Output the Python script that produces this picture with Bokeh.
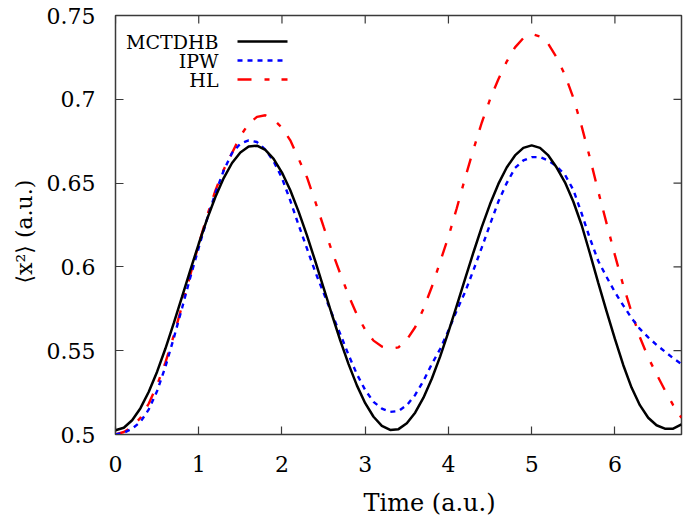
from bokeh.plotting import figure
from bokeh.models import Label, FixedTicker, Range1d, Title
from bokeh.embed import file_html
from bokeh.resources import INLINE

# ---------------- data ----------------
time = [0.0, 0.1, 0.2, 0.3, 0.4, 0.5, 0.6, 0.7, 0.8, 0.9,
        1.0, 1.1, 1.2, 1.3, 1.4, 1.5, 1.6, 1.7, 1.8, 1.9,
        2.0, 2.1, 2.2, 2.3, 2.4, 2.5, 2.6, 2.7, 2.8, 2.9,
        3.0, 3.1, 3.2, 3.3, 3.4, 3.5, 3.6, 3.7, 3.8, 3.9,
        4.0, 4.1, 4.2, 4.3, 4.4, 4.5, 4.6, 4.7, 4.8, 4.9,
        5.0, 5.1, 5.2, 5.3, 5.4, 5.5, 5.6, 5.7, 5.8, 5.9,
        6.0, 6.1, 6.2, 6.3, 6.4, 6.5, 6.6, 6.7, 6.8]

mctdhb = [0.5025, 0.5040, 0.5085, 0.5157, 0.5255, 0.5375, 0.5513, 0.5664, 0.5822, 0.5982,
          0.6138, 0.6285, 0.6417, 0.6530, 0.6620, 0.6683, 0.6718, 0.6723, 0.6698, 0.6644,
          0.6563, 0.6457, 0.6330, 0.6188, 0.6034, 0.5875, 0.5716, 0.5562, 0.5420, 0.5293,
          0.5187, 0.5106, 0.5052, 0.5027, 0.5032, 0.5067, 0.5130, 0.5220, 0.5333, 0.5465,
          0.5612, 0.5769, 0.5928, 0.6086, 0.6237, 0.6375, 0.6495, 0.6593, 0.6665, 0.6710,
          0.6725, 0.6710, 0.6665, 0.6593, 0.6505, 0.6390, 0.6250, 0.6080, 0.5905, 0.5735,
          0.5570, 0.5415, 0.5280, 0.5175, 0.5100, 0.5055, 0.5035, 0.5035, 0.5060]

ipw = [0.5000, 0.5010, 0.5035, 0.5075, 0.5150, 0.5260, 0.5405, 0.5575, 0.5755, 0.5940,
       0.6115, 0.6285, 0.6440, 0.6575, 0.6680, 0.6735, 0.6755, 0.6745, 0.6700, 0.6630,
       0.6530, 0.6395, 0.6250, 0.6110, 0.5970, 0.5845, 0.5720, 0.5600, 0.5475, 0.5360,
       0.5265, 0.5195, 0.5155, 0.5135, 0.5140, 0.5175, 0.5236, 0.5320, 0.5420, 0.5510,
       0.5620, 0.5740, 0.5850, 0.5980, 0.6115, 0.6254, 0.6390, 0.6500, 0.6590, 0.6635,
       0.6655, 0.6655, 0.6635, 0.6600, 0.6550, 0.6460, 0.6320, 0.6170, 0.6035, 0.5940,
       0.5850, 0.5770, 0.5695, 0.5630, 0.5580, 0.5535, 0.5495, 0.5455, 0.5420]

hl = [0.5000, 0.5015, 0.5045, 0.5100, 0.5185, 0.5295, 0.5430, 0.5590, 0.5770, 0.5955,
      0.6135, 0.6305, 0.6455, 0.6580, 0.6680, 0.6780, 0.6855, 0.6895, 0.6905, 0.6880,
      0.6830, 0.6755, 0.6645, 0.6535, 0.6390, 0.6240, 0.6095, 0.5960, 0.5830, 0.5715,
      0.5625, 0.5560, 0.5525, 0.5512, 0.5520, 0.5565, 0.5640, 0.5750, 0.5880, 0.6030,
      0.6180, 0.6350, 0.6530, 0.6700, 0.6860, 0.7000, 0.7120, 0.7225, 0.7310, 0.7365,
      0.7390, 0.7375, 0.7330, 0.7250, 0.7145, 0.7010, 0.6840, 0.6650, 0.6450, 0.6260,
      0.6070, 0.5890, 0.5730, 0.5580, 0.5460, 0.5360, 0.5265, 0.5175, 0.5100]

series_names = ["MCTDHB", "IPW", "HL"]

x_ticks = [0, 1, 2, 3, 4, 5, 6]
x_tick_labels = ["0", "1", "2", "3", "4", "5", "6"]
y_ticks = [0.5, 0.55, 0.6, 0.65, 0.7, 0.75]
y_tick_labels = ["0.5", "0.55", "0.6", "0.65", "0.7", "0.75"]

x_label = "Time (a.u.)"
y_label = "\u27e8x\u00b2\u27e9 (a.u.)"

# ---------------- styling / layout ----------------
X0, X1 = 0.0, 6.8
Y0, Y1 = 0.5, 0.75
W, H = 684, 530
BL, BR, BT, BB = 115, 3, 15, 96
FW, FH = W - BL - BR, H - BT - BB
FONT = "DejaVu Serif"
AX_COLOR = "#3a3a3a"
TICK_LEN = 8

p = figure(width=W, height=H, x_range=Range1d(X0, X1), y_range=Range1d(Y0, Y1),
           output_backend="svg", toolbar_location=None,
           min_border_left=BL, min_border_right=BR, min_border_top=BT, min_border_bottom=BB)
p.xgrid.visible = False
p.ygrid.visible = False
p.background_fill_color = "white"
p.border_fill_color = "white"
p.outline_line_color = AX_COLOR
p.outline_line_width = 1.5


def style_axis(ax, ticks, labels, standoff):
    ax.ticker = FixedTicker(ticks=ticks)
    ax.axis_line_color = None
    ax.major_tick_in = TICK_LEN
    ax.major_tick_out = 0
    ax.minor_tick_line_color = None
    ax.major_tick_line_color = AX_COLOR
    ax.major_tick_line_width = 1.2
    ax.major_label_overrides = {t: l for t, l in zip(ticks, labels)}
    ax.major_label_text_font = FONT
    ax.major_label_text_font_size = "22px"
    ax.major_label_text_color = "black"
    ax.major_label_standoff = standoff


style_axis(p.xaxis[0], x_ticks, x_tick_labels, 21)
style_axis(p.yaxis[0], y_ticks, y_tick_labels, 20)

# mirrored ticks on the top and right edges of the frame
dy = TICK_LEN / FH * (Y1 - Y0)
dx = TICK_LEN / FW * (X1 - X0)
p.segment(x0=x_ticks, y0=[Y1] * len(x_ticks), x1=x_ticks, y1=[Y1 - dy] * len(x_ticks),
          line_color=AX_COLOR, line_width=1.2)
p.segment(x0=[X1] * len(y_ticks), y0=y_ticks, x1=[X1 - dx] * len(y_ticks), y1=y_ticks,
          line_color=AX_COLOR, line_width=1.2)

# series
p.line(time, hl, line_color="#ff0000", line_width=2.4, line_dash="14 13 5 12")
p.line(time, ipw, line_color="#0000ff", line_width=2.4, line_dash="5 5")
p.line(time, mctdhb, line_color="black", line_width=2.5)

# custom legend (labels left of samples, right aligned); Label screen units are frame-relative
leg_px_x0, leg_px_x1 = 122, 172          # sample line, px from frame left
leg_px_rows = [26, 45, 64]               # px from frame top
leg_label_right = 103                     # px from frame left
styles = [dict(line_color="black"),
          dict(line_color="#0000ff", line_dash="5 5"),
          dict(line_color="#ff0000", line_dash="14 13 5 12")]
for name, py, st in zip(series_names, leg_px_rows, styles):
    yy = Y1 - py / FH * (Y1 - Y0)
    xx = [X0 + leg_px_x0 / FW * (X1 - X0), X0 + leg_px_x1 / FW * (X1 - X0)]
    p.line(xx, [yy, yy], line_width=2.4, **st)
    p.add_layout(Label(x=leg_label_right, y=FH - py, x_units="screen", y_units="screen",
                       text=name, text_font=FONT, text_font_size="19px",
                       text_align="right", text_baseline="middle", text_color="black"))

# axis titles (as side-panel titles so they can sit off-centre like the reference)
p.add_layout(Title(text=x_label, align="left", offset=248, standoff=24,
                   text_font=FONT, text_font_size="24px", text_font_style="normal",
                   text_color="black"), "below")
p.add_layout(Title(text=y_label, align="left", offset=151, standoff=14,
                   text_font=FONT, text_font_size="22px", text_font_style="normal",
                   text_color="black"), "left")

open("out.html", "w").write(file_html(p, INLINE))
